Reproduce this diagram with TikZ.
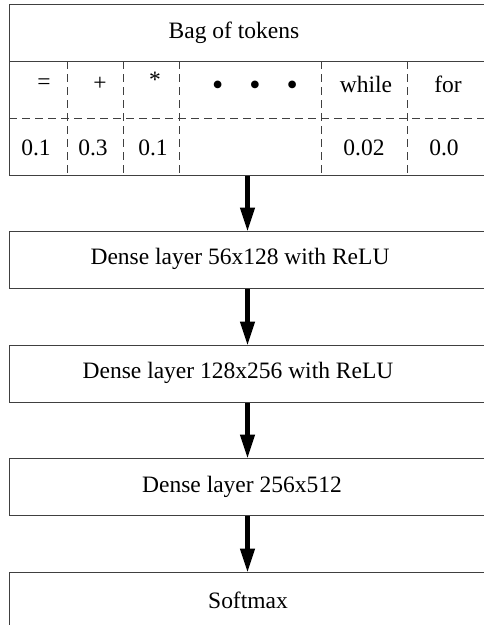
\documentclass[tikz,border=0pt]{standalone}
\usepackage{fontspec}
\setmainfont{Liberation Serif}
\usetikzlibrary{arrows.meta}
\begin{document}
\begin{tikzpicture}[x=1pt,y=-1pt,
  box/.style={draw=black!75, line width=1pt, minimum width=476pt, minimum height=57pt, inner sep=0pt, anchor=north west},
  lbl/.style={font=\fontsize{23.5}{26}\selectfont, inner sep=0pt},
  sep/.style={draw=black!75, line width=0.8pt, dash pattern=on 8pt off 5pt},
  flow/.style={line width=4.5pt, -{Triangle[length=24pt,width=14pt]}, shorten >=-0.5pt}]
\useasboundingbox (0,0) rectangle (483,625);
% table
\node[box, minimum height=171pt] (tbl) at (9,4) {};
\coordinate (r1w) at (9,61); \coordinate (r1e) at (485,61);
\coordinate (r2w) at (9,118); \coordinate (r2e) at (485,118);
\draw[draw=black!75, line width=1pt] (r1w) -- (r1e);
\draw[sep] (r2w) -- (r2e);
\foreach \x/\n in {67/a,123/b,179/c,321/d,407/e}{
  \coordinate (t\n) at (\x,61); \coordinate (b\n) at (\x,175);
  \draw[sep] (t\n) -- (b\n);
}
\node[lbl] (bag) at (234,33) {Bag of tokens};
\node[lbl] (k1) at (44,84) {=};
\node[lbl] (k2) at (100,84) {+};
\node[lbl] (k3) at (155,80) {*};
\node[lbl] (k4) at (255,88) {\fontsize{32}{32}\selectfont •\hspace{26pt}•\hspace{26pt}•};
\node[lbl] (k5) at (366,84) {while};
\node[lbl] (k6) at (448,84) {for};
\node[lbl] (v1) at (36,148) {0.1};
\node[lbl] (v2) at (93,148) {0.3};
\node[lbl] (v3) at (153,148) {0.1};
\node[lbl] (v5) at (364,148) {0.02};
\node[lbl] (v6) at (444,148) {0.0};
% layers
\node[box] (d1) at (9,231) {};
\node[lbl] (d1t) at (240,259) {Dense layer 56x128 with ReLU};
\node[box] (d2) at (9,345) {};
\node[lbl] (d2t) at (238,373) {Dense layer 128x256 with ReLU};
\node[box] (d3) at (9,458) {};
\node[lbl] (d3t) at (242,487) {Dense layer 256x512};
\node[box] (sm) at (9,572) {};
\node[lbl] (smt) at (248,600) {Softmax};
% arrows
\draw[flow] (tbl.south) -- (d1.north);
\draw[flow] (d1.south) -- (d2.north);
\draw[flow] (d2.south) -- (d3.north);
\draw[flow] (d3.south) -- (sm.north);
\end{tikzpicture}
\end{document}
